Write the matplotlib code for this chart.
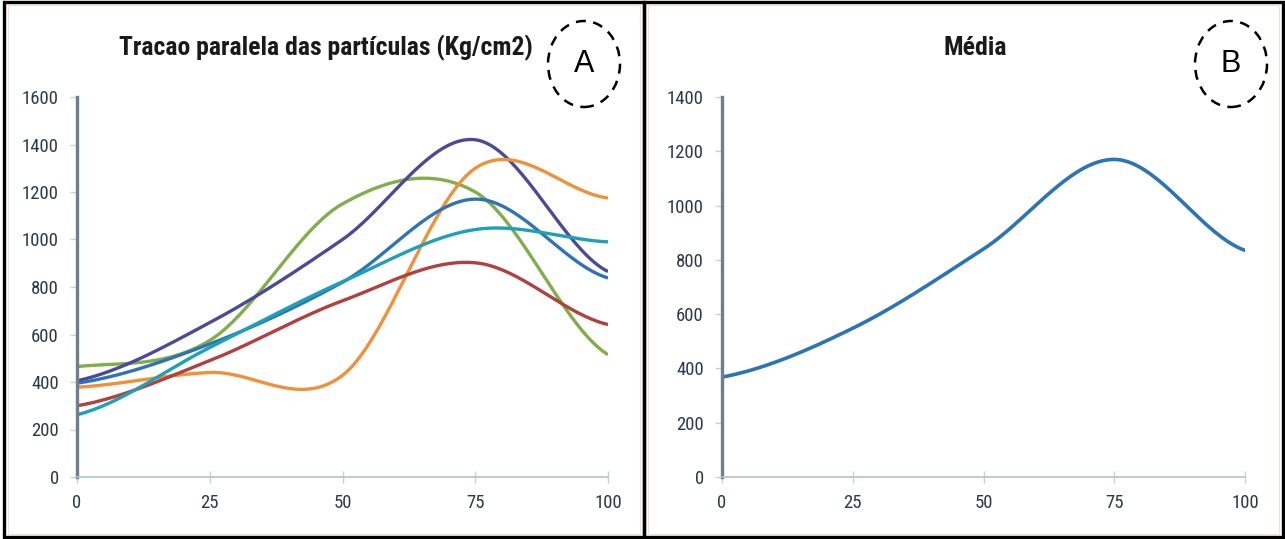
import numpy as np
import matplotlib.pyplot as plt
from matplotlib import font_manager as fm
from matplotlib.patches import Ellipse, Rectangle

# values (x = 0, 25, 50, 75, 100)
x_vals = [0, 25, 50, 75, 100]

green = [465, 575, 1150, 1200, 515]
purple = [405, 650, 1000, 1420, 865]
blue = [395, 560, 820, 1170, 838]
orange = [378, 440, 428, 1300, 1175]
red = [300, 490, 742, 902, 642]
cyan = [262, 545, 822, 1042, 990]

media = [368, 548, 840, 1170, 835]

series_a = [
    (green, "#7fae4a"),
    (purple, "#4b4a9a"),
    (orange, "#f0913a"),
    (blue, "#2e74b5"),
    (red, "#b2403f"),
    (cyan, "#1ea0b8"),
]

title_a = "Tracao paralela das partículas (Kg/cm2)"
title_b = "Média"

W, H = 1285, 539


def pick_font(names):
    for name in names:
        try:
            fm.findfont(fm.FontProperties(family=name), fallback_to_default=False)
            return name
        except ValueError:
            continue
    return "DejaVu Sans"


NARROW = pick_font(["Liberation Sans Narrow", "Roboto Condensed",
                    "Open Sans Condensed", "Noto Sans Condensed"])
HAS_NARROW = NARROW != "DejaVu Sans"
if not HAS_NARROW:
    NARROW = pick_font(["Liberation Sans", "Roboto"])
FONT = [NARROW, "DejaVu Sans"]
TITLE_SIZE = 18.5 if HAS_NARROW else 15
TICK_SIZE = 13.5 if HAS_NARROW else 11.5


def smooth(xs, ys, n=40):
    # Excel style smoothed line (Catmull-Rom through the points)
    xs = np.asarray(xs, float)
    ys = np.asarray(ys, float)
    m = np.zeros_like(ys)
    m[1:-1] = (ys[2:] - ys[:-2]) / 2
    m[0] = (ys[1] - ys[0]) / 2
    m[-1] = (ys[-1] - ys[-2]) / 2
    out_x, out_y = [], []
    for i in range(len(xs) - 1):
        t = np.linspace(0, 1, n, endpoint=(i == len(xs) - 2))
        h00 = 2 * t**3 - 3 * t**2 + 1
        h10 = t**3 - 2 * t**2 + t
        h01 = -2 * t**3 + 3 * t**2
        h11 = t**3 - t**2
        out_x.append(xs[i] + t * (xs[i + 1] - xs[i]))
        out_y.append(h00 * ys[i] + h10 * m[i] + h01 * ys[i + 1] + h11 * m[i + 1])
    return np.concatenate(out_x), np.concatenate(out_y)


def px_axes(fig, x0, x1, y_top, y_bot):
    return fig.add_axes([x0 / W, 1 - y_bot / H, (x1 - x0) / W, (y_bot - y_top) / H])


def style_axes(ax, ymax, ystep):
    ax.set_xlim(0, 100)
    ax.set_ylim(0, ymax)
    ax.set_xticks(x_vals)
    ax.set_yticks(np.arange(0, ymax + 1, ystep))
    for s in ["top", "right"]:
        ax.spines[s].set_visible(False)
    ax.spines["left"].set_color("#6f7f8a")
    ax.spines["left"].set_linewidth(2.4)
    ax.spines["bottom"].set_color("#a9c4d8")
    ax.spines["bottom"].set_linewidth(1.2)
    ax.tick_params(axis="y", length=5, width=1, color="#c5d3de", pad=8,
                   labelsize=TICK_SIZE, labelcolor="#2a3a4a")
    ax.tick_params(axis="x", length=8, width=1, color="#c5d3de", pad=8,
                   labelsize=TICK_SIZE, labelcolor="#2a3a4a", direction="inout")
    for lbl in ax.get_xticklabels() + ax.get_yticklabels():
        lbl.set_family(FONT)
    ax.patch.set_alpha(0)


fig = plt.figure(figsize=(W / 100, H / 100), dpi=100)

# panel frames
for x0, x1 in [(4, 644), (644, 1283)]:
    fig.patches.append(Rectangle(((x0 + 4) / W, 5 / H), (x1 - x0 - 8) / W, (H - 10) / H,
                                 transform=fig.transFigure, fill=False,
                                 edgecolor="#f6dfd6", linewidth=0.8))
    fig.patches.append(Rectangle((x0 / W, 2 / H), (x1 - x0) / W, (H - 4) / H,
                                 transform=fig.transFigure, fill=False,
                                 edgecolor="black", linewidth=2.4))

# panel A
ax1 = px_axes(fig, 77, 608, 97, 477)
for ys, col in series_a:
    sx, sy = smooth(x_vals, ys)
    ax1.plot(sx, sy, color=col, linewidth=2.4, solid_capstyle="butt")
style_axes(ax1, 1600, 200)
fig.text(326 / W, 1 - 48 / H, title_a, ha="center", va="center",
         fontsize=TITLE_SIZE, fontweight="bold", family=FONT, color="#1a1a1a")

# panel B
ax2 = px_axes(fig, 722, 1245, 97, 477)
sx, sy = smooth(x_vals, media)
ax2.plot(sx, sy, color="#2b75b4", linewidth=2.6)
style_axes(ax2, 1400, 200)
fig.text(975 / W, 1 - 48 / H, title_b, ha="center", va="center",
         fontsize=TITLE_SIZE, fontweight="bold", family=FONT, color="#1a1a1a")

# dashed circle labels
for cx, letter in [(584, "A"), (1231, "B")]:
    fig.patches.append(Ellipse((cx / W, 1 - 64 / H), 72 / W, 86 / H,
                               transform=fig.transFigure, fill=False,
                               edgecolor="black", linewidth=1.8,
                               linestyle=(0, (4, 3))))
    fig.text(cx / W, 1 - 64 / H, letter, ha="center", va="center",
             fontsize=22, family=["Liberation Sans", "DejaVu Sans"])

fig.savefig("out.png", dpi=100)
